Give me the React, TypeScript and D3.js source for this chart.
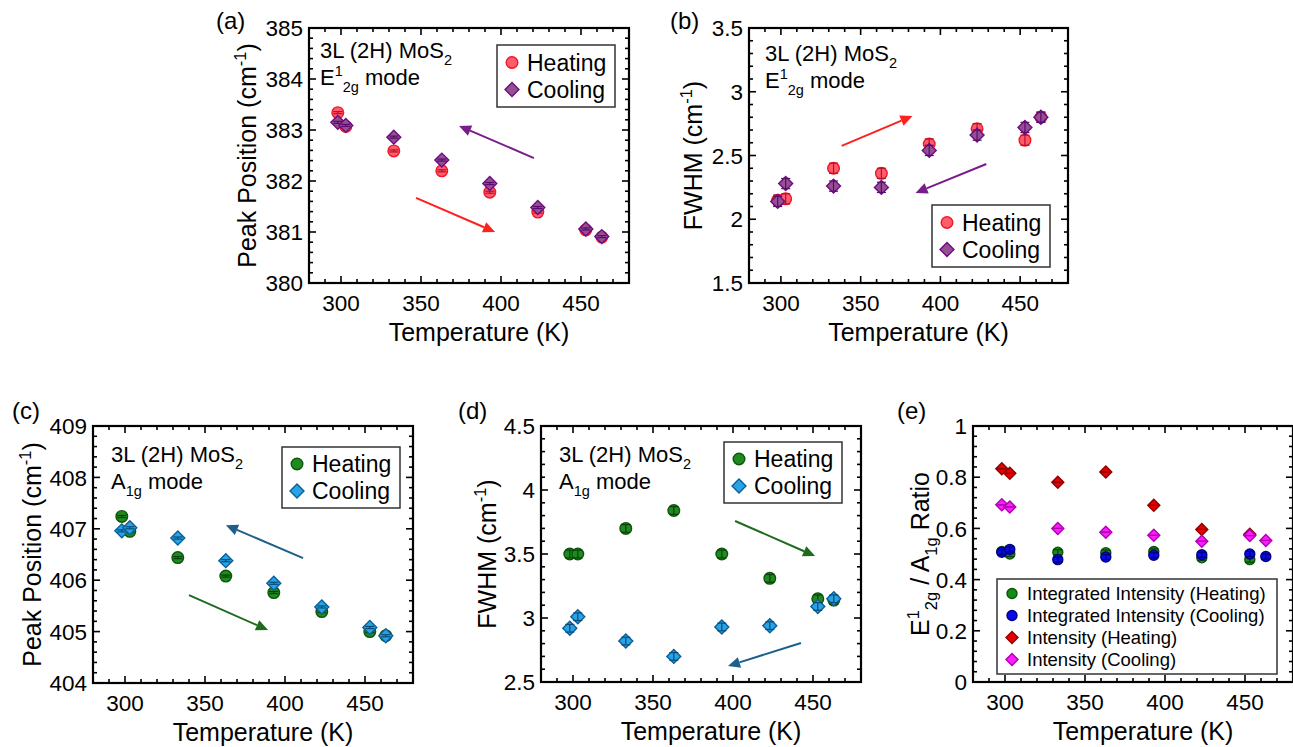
import React from "react";
import * as d3 from "d3";

// Measurement temperatures (K)
const temps = [298, 303, 333, 363, 393, 423, 453, 463];
const tempsE = [298, 303, 333, 363, 393, 423, 453];

// E1_2g mode
const e2gPosHeat = [383.34, 383.07, 382.59, 382.2, 381.78, 381.39, 381.04, 380.9];
const e2gPosCool = [383.15, 383.09, 382.86, 382.41, 381.95, 381.48, 381.06, 380.91];
const e2gFwhmHeat = [2.15, 2.16, 2.4, 2.36, 2.59, 2.71, 2.62, 2.8];
const e2gFwhmCool = [2.14, 2.28, 2.26, 2.25, 2.54, 2.66, 2.72, 2.8];

// A1g mode
const a1gPosHeat = [407.24, 406.95, 406.44, 406.08, 405.76, 405.39, 405.0, 404.92];
const a1gPosCool = [406.96, 407.02, 406.82, 406.38, 405.94, 405.48, 405.08, 404.92];
const a1gFwhmHeat = [3.5, 3.5, 3.7, 3.84, 3.5, 3.31, 3.15, 3.14];
const a1gFwhmCool = [2.92, 3.01, 2.82, 2.7, 2.93, 2.94, 3.09, 3.15];

// E1_2g / A1g ratios
const intIntHeat = [0.51, 0.5, 0.507, 0.505, 0.51, 0.485, 0.478];
const intIntCool = [0.507, 0.518, 0.478, 0.488, 0.495, 0.497, 0.5, 0.49];
const peakIntHeat = [0.833, 0.815, 0.78, 0.82, 0.69, 0.596, 0.577];
const peakIntCool = [0.692, 0.684, 0.6, 0.585, 0.573, 0.55, 0.572, 0.553];

// Error half-widths
const errPosE = 0.02;
const errFwhmE = 0.04;
const errPosA = 0.02;
const errFwhmA = 0.03;
const errRatio = 0.01;

const xDomain: [number, number] = [280, 480];
const xLabels = [300, 350, 400, 450];

const FONT = "'Liberation Sans', Arial, Helvetica, sans-serif";

type Part = [string, "" | "sup" | "sub"];

function Rich({ parts, fs }: { parts: Part[]; fs: number }) {
  let off = 0;
  return (
    <>
      {parts.map(([t, k], i) => {
        const target = k === "sup" ? -0.42 * fs : k === "sub" ? 0.3 * fs : 0;
        const dy = target - off;
        off = target;
        return (
          <tspan key={i} dy={dy} fontSize={k ? fs * 0.66 : fs}>
            {t}
          </tspan>
        );
      })}
    </>
  );
}

type Shape = "circle" | "diamond";
interface Series {
  name: string;
  x: number[];
  y: number[];
  err: number;
  shape: Shape;
  fill: string;
  stroke: string;
  bar: string;
}

function Marker({ shape, cx, cy, size, fill, stroke }: any) {
  if (shape === "circle")
    return <circle cx={cx} cy={cy} r={size} fill={fill} stroke={stroke} strokeWidth={1.4} />;
  const d = size * 1.2;
  return (
    <path
      d={`M${cx},${cy - d}L${cx + d},${cy}L${cx},${cy + d}L${cx - d},${cy}Z`}
      fill={fill}
      stroke={stroke}
      strokeWidth={1.4}
    />
  );
}

interface Arrow {
  from: [number, number];
  to: [number, number];
  color: string;
}

interface PanelProps {
  tag: string;
  tagPos: [number, number];
  box: { left: number; top: number; width: number; height: number };
  yDomain: [number, number];
  yMajor: number;
  yMinor: number;
  series: Series[];
  legend: { x: number; y: number; w: number; h: number; rowH: number; fs: number };
  notes?: { x: number; y: number; lines: Part[][] };
  arrows?: Arrow[];
  ylabel: Part[];
  ylabelX: number;
  msize: number;
}

function ticks(a: number, b: number, step: number) {
  const n = Math.round((b - a) / step);
  return d3.range(n + 1).map((i) => Math.round((a + i * step) * 1e6) / 1e6);
}

function Panel(p: PanelProps) {
  const { left, top, width, height } = p.box;
  const x = d3.scaleLinear().domain(xDomain).range([left, left + width]);
  const y = d3.scaleLinear().domain(p.yDomain).range([top + height, top]);
  const bottom = top + height;
  const right = left + width;

  const xMajor = xLabels;
  const xMinor = ticks(xDomain[0], xDomain[1], 10).filter((v) => !xMajor.includes(v));
  const yMaj = ticks(p.yDomain[0], p.yDomain[1], p.yMajor);
  const yMin = ticks(p.yDomain[0], p.yDomain[1], p.yMinor).filter(
    (v) => !yMaj.some((m) => Math.abs(m - v) < 1e-6)
  );
  const LM = 7;
  const Lm = 4;
  const fsTick = 22.5;
  const fsTitle = 25;
  const fsNote = 22;

  return (
    <g fontFamily={FONT}>
      <text x={p.tagPos[0]} y={p.tagPos[1]} fontSize={24}>
        {p.tag}
      </text>
      {/* ticks on all four sides, pointing inward */}
      <g stroke="#000" strokeWidth={1.6}>
        {xMajor.map((v) => (
          <g key={"xM" + v}>
            <line x1={x(v)} x2={x(v)} y1={bottom} y2={bottom - LM} />
            <line x1={x(v)} x2={x(v)} y1={top} y2={top + LM} />
          </g>
        ))}
        {xMinor.map((v) => (
          <g key={"xm" + v}>
            <line x1={x(v)} x2={x(v)} y1={bottom} y2={bottom - Lm} />
            <line x1={x(v)} x2={x(v)} y1={top} y2={top + Lm} />
          </g>
        ))}
        {yMaj.map((v) => (
          <g key={"yM" + v}>
            <line x1={left} x2={left + LM} y1={y(v)} y2={y(v)} />
            <line x1={right} x2={right - LM} y1={y(v)} y2={y(v)} />
          </g>
        ))}
        {yMin.map((v) => (
          <g key={"ym" + v}>
            <line x1={left} x2={left + Lm} y1={y(v)} y2={y(v)} />
            <line x1={right} x2={right - Lm} y1={y(v)} y2={y(v)} />
          </g>
        ))}
      </g>
      <rect x={left} y={top} width={width} height={height} fill="none" stroke="#000" strokeWidth={2.2} />

      {xMajor.map((v) => (
        <text key={"xl" + v} x={x(v)} y={bottom + 28} fontSize={fsTick} textAnchor="middle">
          {v}
        </text>
      ))}
      {yMaj.map((v) => (
        <text key={"yl" + v} x={left - 6} y={y(v) + fsTick * 0.36} fontSize={fsTick} textAnchor="end">
          {String(v)}
        </text>
      ))}
      <text x={left + width / 2 + 10} y={bottom + 58} fontSize={fsTitle} textAnchor="middle">
        Temperature (K)
      </text>
      <text
        transform={`translate(${p.ylabelX},${top + height / 2}) rotate(-90)`}
        y={fsTitle * 0.36}
        fontSize={fsTitle}
        textAnchor="middle"
      >
        <Rich parts={p.ylabel} fs={fsTitle} />
      </text>

      {/* sample / mode annotation */}
      {p.notes &&
        p.notes.lines.map((ln, i) => (
          <text key={"n" + i} x={p.notes!.x} y={p.notes!.y + i * 27} fontSize={fsNote}>
            <Rich parts={ln} fs={fsNote} />
          </text>
        ))}

      {/* direction arrows */}
      {p.arrows &&
        p.arrows.map((a, i) => {
          const x1 = x(a.from[0]);
          const y1 = y(a.from[1]);
          const x2 = x(a.to[0]);
          const y2 = y(a.to[1]);
          const ang = Math.atan2(y2 - y1, x2 - x1);
          const hl = 12;
          const hw = 5.5;
          const bx = x2 - hl * Math.cos(ang);
          const by = y2 - hl * Math.sin(ang);
          const px = -Math.sin(ang) * hw;
          const py = Math.cos(ang) * hw;
          return (
            <g key={"a" + i}>
              <line x1={x1} y1={y1} x2={bx} y2={by} stroke={a.color} strokeWidth={2} />
              <path d={`M${x2},${y2}L${bx + px},${by + py}L${bx - px},${by - py}Z`} fill={a.color} />
            </g>
          );
        })}

      {/* data with error bars */}
      {p.series.map((s) => (
        <g key={s.name}>
          {s.y.map((v, i) => {
            const cx = x(s.x[i]);
            const cy = y(v);
            const y0 = y(v - s.err);
            const y1 = y(v + s.err);
            const cw = 4.5;
            return (
              <g key={i}>
                <Marker shape={s.shape} cx={cx} cy={cy} size={p.msize} fill={s.fill} stroke={s.stroke} />
                <g stroke={s.bar} strokeWidth={1.2}>
                  <line x1={cx} x2={cx} y1={y0} y2={y1} />
                  <line x1={cx - cw} x2={cx + cw} y1={y0} y2={y0} />
                  <line x1={cx - cw} x2={cx + cw} y1={y1} y2={y1} />
                </g>
              </g>
            );
          })}
        </g>
      ))}

      {/* legend */}
      <g>
        <rect
          x={p.legend.x}
          y={p.legend.y}
          width={p.legend.w}
          height={p.legend.h}
          fill="#fff"
          stroke="#333"
          strokeWidth={1.5}
        />
        {p.series.map((s, i) => {
          const cy = p.legend.y + (p.legend.h - p.legend.rowH * p.series.length) / 2 + p.legend.rowH * (i + 0.5);
          return (
            <g key={"lg" + s.name}>
              <Marker shape={s.shape} cx={p.legend.x + 15} cy={cy} size={p.msize} fill={s.fill} stroke={s.stroke} />
              <text x={p.legend.x + 30} y={cy + p.legend.fs * 0.36} fontSize={p.legend.fs}>
                {s.name}
              </text>
            </g>
          );
        })}
      </g>
    </g>
  );
}

const redFill = "#ff5c6c";
const redStroke = "#f21626";
const redBar = "#b8102a";
const purFill = "#94508f";
const purStroke = "#6c0c84";
const purBar = "#5a0a6e";
const grnFill = "#1f8a1f";
const grnStroke = "#0c560c";
const grnBar = "#0a400a";
const bluFill = "#28a4e6";
const bluStroke = "#0c5f96";
const bluBar = "#0a4a78";

const E2G_MODE: Part[] = [["E", ""], ["1", "sup"], ["2g", "sub"], [" mode", ""]];
const A1G_MODE: Part[] = [["A", ""], ["1g", "sub"], [" mode", ""]];
const SAMPLE: Part[] = [["3L (2H) MoS", ""], ["2", "sub"]];
const POS_LABEL: Part[] = [["Peak Position (cm", ""], ["-1", "sup"], [")", ""]];
const FWHM_LABEL: Part[] = [["FWHM (cm", ""], ["-1", "sup"], [")", ""]];
const RATIO_LABEL: Part[] = [["E", ""], ["1", "sup"], ["2g", "sub"], [" / A", ""], ["1g", "sub"], [" Ratio", ""]];

export default function App() {
  const heatE = (yv: number[], err: number): Series => ({
    name: "Heating", x: temps, y: yv, err, shape: "circle", fill: redFill, stroke: redStroke, bar: redBar,
  });
  const coolE = (yv: number[], err: number): Series => ({
    name: "Cooling", x: temps, y: yv, err, shape: "diamond", fill: purFill, stroke: purStroke, bar: purBar,
  });
  const heatA = (yv: number[], err: number): Series => ({
    name: "Heating", x: temps, y: yv, err, shape: "circle", fill: grnFill, stroke: grnStroke, bar: grnBar,
  });
  const coolA = (yv: number[], err: number): Series => ({
    name: "Cooling", x: temps, y: yv, err, shape: "diamond", fill: bluFill, stroke: bluStroke, bar: bluBar,
  });

  const ratioSeries: Series[] = [
    { name: "Integrated Intensity (Heating)", x: tempsE, y: intIntHeat, err: errRatio, shape: "circle", fill: "#168c16", stroke: "#0a560a", bar: "#0a400a" },
    { name: "Integrated Intensity (Cooling)", x: temps, y: intIntCool, err: errRatio, shape: "circle", fill: "#0a0ae8", stroke: "#000088", bar: "#000070" },
    { name: "Intensity (Heating)", x: tempsE, y: peakIntHeat, err: 0, shape: "diamond", fill: "#e80000", stroke: "#900000", bar: "#900000" },
    { name: "Intensity (Cooling)", x: temps, y: peakIntCool, err: 0, shape: "diamond", fill: "#ff1cff", stroke: "#b000b0", bar: "#b000b0" },
  ];

  return (
    <svg
      width={1293}
      height={747}
      style={{ position: "absolute", left: 0, top: 0, background: "#fff" }}
    >
      <Panel
        tag="(a)"
        tagPos={[216, 29]}
        box={{ left: 309, top: 28, width: 320, height: 255 }}
        yDomain={[380, 385]}
        yMajor={1}
        yMinor={0.2}
        series={[heatE(e2gPosHeat, errPosE), coolE(e2gPosCool, errPosE)]}
        legend={{ x: 497, y: 45, w: 118, h: 62, rowH: 27, fs: 23 }}
        notes={{ x: 320, y: 58, lines: [SAMPLE, E2G_MODE] }}
        arrows={[
          { from: [346.9, 381.67], to: [396.3, 381.0], color: "#ff2020" },
          { from: [420.6, 382.45], to: [373.8, 383.08], color: "#7a1d8c" },
        ]}
        ylabel={POS_LABEL}
        ylabelX={247}
        msize={5.8}
      />
      <Panel
        tag="(b)"
        tagPos={[670, 29]}
        box={{ left: 749, top: 28, width: 319, height: 255 }}
        yDomain={[1.5, 3.5]}
        yMajor={0.5}
        yMinor={0.1}
        series={[heatE(e2gFwhmHeat, errFwhmE), coolE(e2gFwhmCool, errFwhmE)]}
        legend={{ x: 932, y: 205, w: 118, h: 62, rowH: 27, fs: 23 }}
        notes={{ x: 765, y: 61, lines: [SAMPLE, E2G_MODE] }}
        arrows={[
          { from: [338.1, 2.575], to: [382.5, 2.81], color: "#ff2020" },
          { from: [428.8, 2.433], to: [384.4, 2.206], color: "#7a1d8c" },
        ]}
        ylabel={FWHM_LABEL}
        ylabelX={693}
        msize={5.8}
      />
      <Panel
        tag="(c)"
        tagPos={[12, 419]}
        box={{ left: 93, top: 426, width: 320, height: 257 }}
        yDomain={[404, 409]}
        yMajor={1}
        yMinor={0.2}
        series={[heatA(a1gPosHeat, errPosA), coolA(a1gPosCool, errPosA)]}
        legend={{ x: 282, y: 447, w: 118, h: 61, rowH: 27, fs: 23 }}
        notes={{ x: 111, y: 462, lines: [SAMPLE, A1G_MODE] }}
        arrows={[
          { from: [340, 405.71], to: [389.4, 405.03], color: "#1e6b1e" },
          { from: [411.3, 406.43], to: [363.1, 407.07], color: "#1c5f8a" },
        ]}
        ylabel={POS_LABEL}
        ylabelX={32}
        msize={5.8}
      />
      <Panel
        tag="(d)"
        tagPos={[458, 419]}
        box={{ left: 541, top: 426, width: 320, height: 256 }}
        yDomain={[2.5, 4.5]}
        yMajor={0.5}
        yMinor={0.1}
        series={[heatA(a1gFwhmHeat, errFwhmA), coolA(a1gFwhmCool, errFwhmA)]}
        legend={{ x: 724, y: 442, w: 118, h: 61, rowH: 27, fs: 23 }}
        notes={{ x: 559, y: 462, lines: [SAMPLE, A1G_MODE] }}
        arrows={[
          { from: [401.3, 3.758], to: [451.3, 3.484], color: "#1e6b1e" },
          { from: [442.5, 2.805], to: [396.9, 2.625], color: "#1c5f8a" },
        ]}
        ylabel={FWHM_LABEL}
        ylabelX={487}
        msize={5.8}
      />
      <Panel
        tag="(e)"
        tagPos={[897, 419]}
        box={{ left: 973, top: 426, width: 320, height: 256 }}
        yDomain={[0, 1]}
        yMajor={0.2}
        yMinor={0.04}
        series={ratioSeries}
        legend={{ x: 997, y: 579, w: 280, h: 95, rowH: 22, fs: 18.5 }}
        ylabel={RATIO_LABEL}
        ylabelX={920}
        msize={5}
      />
    </svg>
  );
}
